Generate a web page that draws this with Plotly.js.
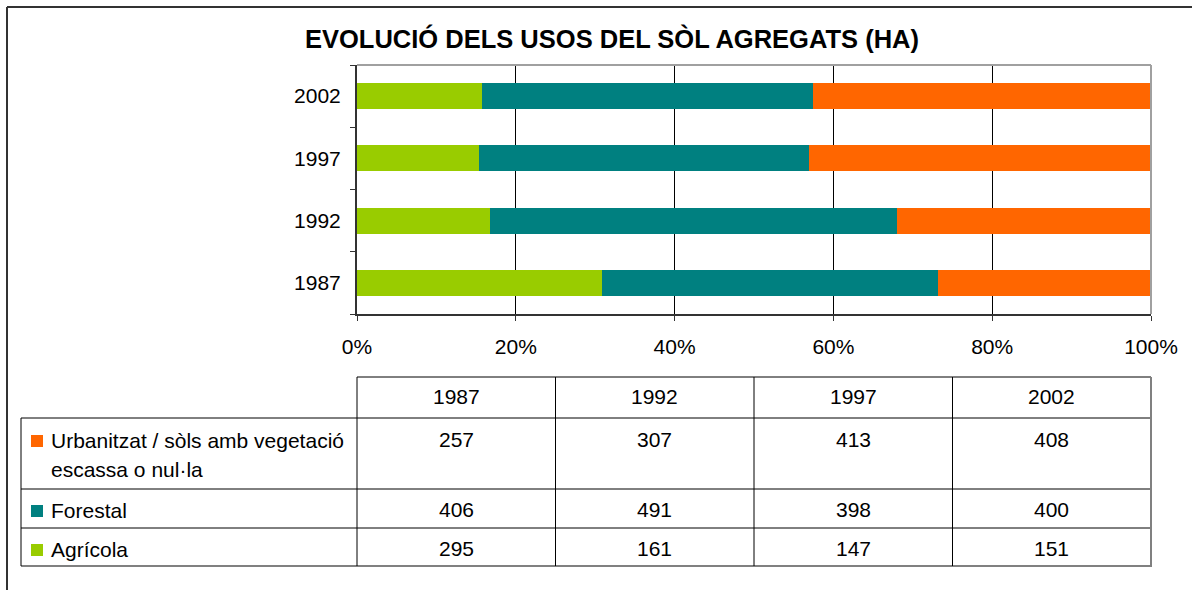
<!DOCTYPE html>
<html>
<head>
<meta charset="utf-8">
<script src="https://cdn.plot.ly/plotly-3.0.1.min.js"></script>
<style>html,body{margin:0;padding:0;background:#fff;}#chart{width:1192px;height:590px;}</style>
</head>
<body>
<div id="chart"></div>
<script>
// ---- data ----
const years = ['1987', '1992', '1997', '2002'];
const seriesNames = ['Agrícola', 'Forestal', 'Urbanitzat / sòls amb vegetació escassa o nul·la'];
const agricola = [295, 161, 147, 151];
const forestal = [406, 491, 398, 400];
const urbanitzat = [257, 307, 413, 408];
const tableRowLabels = ['Urbanitzat / sòls amb vegetació|escassa o nul·la', 'Forestal', 'Agrícola'];
const colors = ['#99CC00', '#008080', '#FF6600'];
const titleText = 'EVOLUCIÓ DELS USOS DEL SÒL AGREGATS (HA)';

// ---- geometry (pixels) ----
const W = 1192, H = 590;
const PL = 357, PR = 1151, PT = 65, PB = 314;
const pw = PR - PL, ph = PB - PT;
const xp = px => (px - PL) / pw;
const yp = py => (PB - py) / ph;
const FONT = 'Liberation Sans, Arial, sans-serif';

const seriesValues = [agricola, forestal, urbanitzat];
const traces = seriesValues.map((vals, i) => ({
  type: 'bar', orientation: 'h',
  y: years, x: vals, name: seriesNames[i],
  marker: {color: colors[i], line: {width: 0}},
  hoverinfo: 'name+x'
}));

// ---- table ----
const colEdges = [357, 555.5, 754, 952.5, 1151];
const tabLeft = 21;
const rowTop = 377;
const rowEdges = [418, 489, 528, 566];
const shapes = [];
const annotations = [];
function line(x0, y0, x1, y1, color, width) {
  shapes.push({type: 'line', xref: 'paper', yref: 'paper', x0: xp(x0), y0: yp(y0), x1: xp(x1), y1: yp(y1),
    line: {color: color, width: width}});
}
// outer frame of the whole chart
line(7, 7, 1200, 7, '#333', 2);
line(7, 7, 7, 600, '#333', 2);
// plot frame top/right (gray)
line(PL, PT, PR, PT, '#A0A0A0', 2);
line(PR, PT, PR, PB, '#A0A0A0', 2);
// table horizontal lines
line(colEdges[0], rowTop, PR, rowTop, '#000', 1);
line(tabLeft, rowEdges[0], PR, rowEdges[0], '#000', 1);
line(tabLeft, rowEdges[1], PR, rowEdges[1], '#000', 1);
line(tabLeft, rowEdges[2], PR, rowEdges[2], '#000', 1);
line(tabLeft, rowEdges[3], PR + 1, rowEdges[3], '#808080', 2);
// table vertical lines
line(tabLeft, rowEdges[0], tabLeft, rowEdges[3], '#000', 1);
for (let k = 0; k < 4; k++) line(colEdges[k], rowTop, colEdges[k], rowEdges[3], '#000', 1);
line(PR, rowTop, PR, rowEdges[3], '#808080', 2);

function txt(text, x, y, xanchor, size) {
  annotations.push({xref: 'paper', yref: 'paper', x: xp(x), y: yp(y), text: text, showarrow: false,
    xanchor: xanchor, yanchor: 'middle', align: xanchor === 'left' ? 'left' : 'center',
    font: {family: FONT, size: size || 21, color: '#000'}});
}
// header
years.forEach((yr, k) => txt(yr, (colEdges[k] + colEdges[k + 1]) / 2, 396, 'center'));
// rows: order urbanitzat, forestal, agricola
const tableSeries = [2, 1, 0];
const rowTextY = [440, 510, 549];
tableSeries.forEach((si, r) => {
  const parts = tableRowLabels[r].split('|');
  parts.forEach((p, j) => txt(p, 49, rowTextY[r] + j * 29, 'left'));
  shapes.push({type: 'rect', xref: 'paper', yref: 'paper',
    x0: xp(31), x1: xp(43), y0: yp(rowTextY[r] - 5), y1: yp(rowTextY[r] + 7),
    fillcolor: colors[si], line: {width: 0}});
  seriesValues[si].forEach((v, k) => txt(String(v), (colEdges[k] + colEdges[k + 1]) / 2, rowTextY[r] - 1, 'center'));
});

const layout = {
  width: W, height: H,
  margin: {l: PL, r: W - PR, t: PT, b: H - PB, pad: 0},
  paper_bgcolor: '#fff', plot_bgcolor: '#fff',
  barmode: 'stack', barnorm: 'percent', bargap: 0.58,
  showlegend: false,
  title: {text: '<b>' + titleText + '</b>', x: 612 / W, xref: 'container', xanchor: 'center',
    y: 1 - 39 / H, yref: 'container', yanchor: 'middle',
    font: {family: FONT, size: 25.5, color: '#000'}},
  xaxis: {range: [0, 100], dtick: 20, tick0: 0, ticksuffix: '%', showgrid: true, gridcolor: '#000', gridwidth: 1,
    zeroline: false, showline: true, linecolor: '#333', linewidth: 2, ticks: 'outside', ticklen: 5, tickcolor: '#333',
    ticklabelstandoff: 8,
    tickfont: {family: FONT, size: 21, color: '#000'}, fixedrange: true},
  yaxis: {type: 'category', showgrid: false, zeroline: false, showline: true, linecolor: '#333', linewidth: 2,
    ticks: 'outside', ticklen: 5, tickcolor: '#333', tickson: 'boundaries', ticklabelstandoff: 10,
    tickfont: {family: FONT, size: 21, color: '#000'}, fixedrange: true},
  shapes: shapes,
  annotations: annotations
};
Plotly.newPlot('chart', traces, layout, {displayModeBar: false, staticPlot: true});
</script>
</body>
</html>
